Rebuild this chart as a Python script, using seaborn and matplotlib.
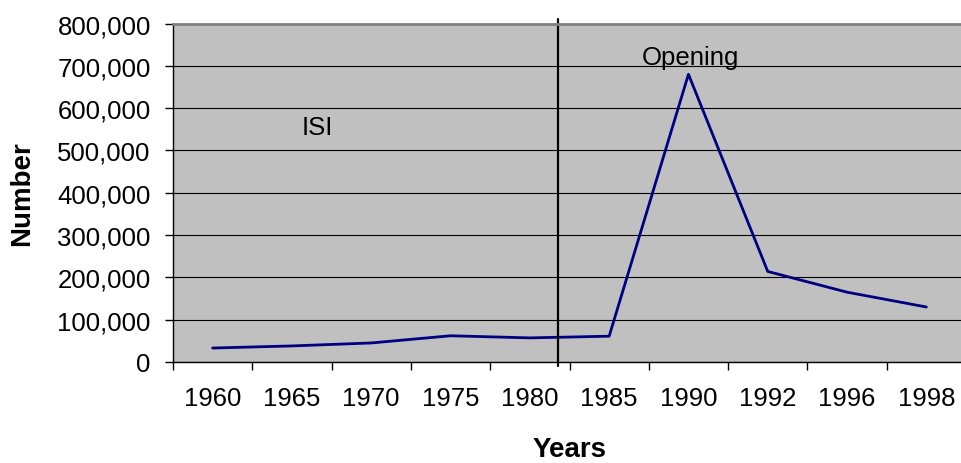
import numpy as np
import pandas as pd
import matplotlib
matplotlib.use('Agg')
import matplotlib.pyplot as plt
import seaborn as sns
from matplotlib.ticker import FixedLocator, FuncFormatter

# =========================================================
# データ
# =========================================================
years = ['1960', '1965', '1970', '1975', '1980', '1985', '1990', '1992', '1996', '1998']
numbers = [33000, 38000, 45000, 62000, 57000, 61000, 680000, 214000, 165000, 130000]

df = pd.DataFrame({'Years': years, 'Number': numbers})

# =========================================================
# 設定
# =========================================================
sns.set_style('white')
plt.rcParams['font.family'] = ['Liberation Sans', 'DejaVu Sans']
plt.rcParams['text.color'] = 'black'
plt.rcParams['axes.labelcolor'] = 'black'
plt.rcParams['xtick.color'] = 'black'
plt.rcParams['ytick.color'] = 'black'

fig = plt.figure(figsize=(9.61, 4.64), dpi=100)
# 右端は画像の外まで伸びている（元画像が切れている）
ax = fig.add_axes([173 / 961, 101 / 464, 793 / 961, 338.5 / 464])
ax.set_facecolor('#C0C0C0')

sns.lineplot(data=df, x='Years', y='Number', color='#000080',
             linewidth=2.0, ax=ax, sort=False)

ax.set_xlim(-0.5, len(years) - 0.5)
ax.set_ylim(0, 800000)

# 目盛り
ax.yaxis.set_major_locator(FixedLocator(np.arange(0, 800001, 100000)))
ax.yaxis.set_major_formatter(FuncFormatter(lambda v, p: f'{int(v):,}'))
ax.tick_params(axis='y', direction='out', length=6, width=1, colors='black',
               labelsize=18.5, pad=10, left=True)
ax.set_xticks(range(len(years)))
ax.set_xticklabels(years)
ax.xaxis.set_minor_locator(FixedLocator(np.arange(-0.5, len(years), 1.0)))
ax.tick_params(axis='x', which='major', length=0, labelsize=18.5, pad=17,
               labelcolor='black')
ax.tick_params(axis='x', which='minor', direction='out', length=6, width=1,
               color='black', bottom=True)

# グリッド
ax.grid(axis='y', color='black', linewidth=0.8)
ax.grid(axis='x', visible=False)
ax.set_axisbelow(True)

# 枠線
ax.spines['left'].set_color('black')
ax.spines['left'].set_linewidth(1)
ax.spines['bottom'].set_color('black')
ax.spines['bottom'].set_linewidth(1)
ax.spines['top'].set_color('#808080')
ax.spines['top'].set_linewidth(2)
ax.spines['right'].set_visible(False)

# 軸ラベル
ax.set_xlabel('Years', fontsize=20, fontweight='bold', color='black')
ax.xaxis.label.set_va('center')
ax.xaxis.set_label_coords(0.5, -0.257)
ax.set_ylabel('Number', fontsize=20, fontweight='bold', color='black')
ax.yaxis.label.set_va('center')
ax.yaxis.set_label_coords(-0.19, 0.5)

# 区切り線と注記
ax.axvline(4.355, ymin=-0.012, ymax=1.013, color='black', linewidth=1.6,
           clip_on=False)
ax.text(1.32, 555000, 'ISI', fontsize=18.5, ha='center', va='center', color='black')
ax.text(6.02, 722000, 'Opening', fontsize=18.5, ha='center', va='center', color='black')

fig.savefig('out.png', dpi=100, facecolor='white')
plt.close(fig)
